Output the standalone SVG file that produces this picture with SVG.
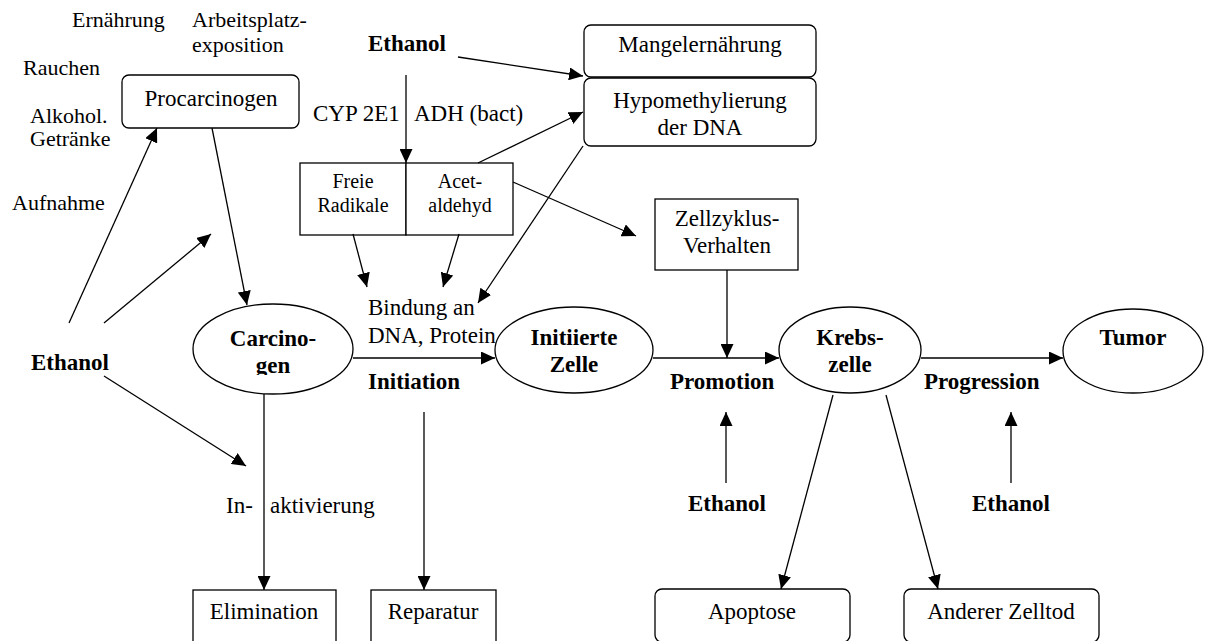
<svg xmlns="http://www.w3.org/2000/svg" width="1205" height="641" viewBox="0 0 1205 641">
<style>
text{font-family:"Liberation Serif","Times New Roman",serif;font-size:23px;fill:#000}
.b{font-weight:bold}
.s{font-size:22px}
.xs{font-size:20px}
.m{text-anchor:middle}
.box{fill:#fff;stroke:#000;stroke-width:1.3}
.el{fill:#fff;stroke:#000;stroke-width:1.3}
.c line{stroke:#000;stroke-width:1.3;marker-end:url(#ah)}
.c line.n{marker-end:none}
</style>
<defs>
<marker id="ah" markerUnits="userSpaceOnUse" markerWidth="15" markerHeight="13" refX="14" refY="6.5" orient="auto">
<path d="M0,0 L14,6.5 L0,13 z" fill="#000"/>
</marker>
<clipPath id="cgclip"><rect x="190" y="300" width="170" height="75"/></clipPath>
</defs>

<g id="labels">
<text x="72" y="27" class="s">Ernährung</text>
<text x="192" y="27" class="s">Arbeitsplatz-</text>
<text x="192" y="52" class="s">exposition</text>
<text x="23" y="75" class="s">Rauchen</text>
<text x="30" y="123" class="s">Alkohol.</text>
<text x="30" y="146" class="s">Getränke</text>
<text x="12" y="210" class="s">Aufnahme</text>
<text x="31" y="370" class="b">Ethanol</text>
<text x="368" y="51" class="b">Ethanol</text>
<text x="313" y="121">CYP 2E1</text>
<text x="414" y="121">ADH (bact)</text>
<text x="368" y="315">Bindung an</text>
<text x="368" y="343">DNA, Protein</text>
<text x="368" y="389" class="b">Initiation</text>
<text x="670" y="389" class="b">Promotion</text>
<text x="924" y="389" class="b">Progression</text>
<text x="226" y="513">In-</text>
<text x="270" y="513">aktivierung</text>
<text x="727" y="511" class="b m">Ethanol</text>
<text x="1011" y="511" class="b m">Ethanol</text>
</g>

<g id="procarcinogen">
<rect class="box" x="122" y="75" width="177" height="53" rx="7"/>
<text x="211" y="106" class="m">Procarcinogen</text>
</g>

<g id="mangel">
<rect class="box" x="584" y="25" width="232" height="52" rx="7"/>
<text x="700" y="52" class="m">Mangelernährung</text>
</g>

<g id="hypo">
<rect class="box" x="584" y="78" width="232" height="68" rx="7"/>
<text x="700" y="108" class="m">Hypomethylierung</text>
<text x="700" y="135" class="m">der DNA</text>
</g>

<g id="radikale">
<rect class="box" x="300" y="163" width="106" height="72"/>
<text x="353" y="188" class="xs m">Freie</text>
<text x="353" y="212" class="xs m">Radikale</text>
</g>

<g id="acetaldehyd">
<rect class="box" x="406" y="163" width="107" height="72"/>
<text x="460" y="188" class="xs m">Acet-</text>
<text x="460" y="212" class="xs m">aldehyd</text>
</g>

<g id="zellzyklus">
<rect class="box" x="655" y="199" width="143" height="71"/>
<text x="727" y="226" class="m">Zellzyklus-</text>
<text x="727" y="253" class="m">Verhalten</text>
</g>

<g id="carcinogen">
<ellipse class="el" cx="273" cy="349" rx="80" ry="45"/>
<g clip-path="url(#cgclip)">
<text x="273" y="346" class="b m">Carcino-</text>
<text x="273" y="373" class="b m">gen</text>
</g>
</g>

<g id="initiierte">
<ellipse class="el" cx="574" cy="350" rx="79" ry="43"/>
<text x="574" y="345" class="b m">Initiierte</text>
<text x="574" y="372" class="b m">Zelle</text>
</g>

<g id="krebszelle">
<ellipse class="el" cx="850" cy="350" rx="71" ry="43"/>
<text x="850" y="345" class="b m">Krebs-</text>
<text x="850" y="372" class="b m">zelle</text>
</g>

<g id="tumor">
<ellipse class="el" cx="1133" cy="351" rx="70" ry="42"/>
<text x="1133" y="345" class="b m">Tumor</text>
</g>

<g id="elimination">
<rect class="box" x="193" y="590" width="143" height="60"/>
<text x="264" y="619" class="m">Elimination</text>
</g>

<g id="reparatur">
<rect class="box" x="371" y="590" width="125" height="60"/>
<text x="433" y="619" class="m">Reparatur</text>
</g>

<g id="apoptose">
<rect class="box" x="655" y="589" width="195" height="53" rx="7"/>
<text x="752" y="619" class="m">Apoptose</text>
</g>

<g id="zelltod">
<rect class="box" x="904" y="589" width="195" height="53" rx="7"/>
<text x="1001" y="619" class="m">Anderer Zelltod</text>
</g>

<g id="connectors" class="c">
<line x1="69" y1="323" x2="157" y2="128"/>
<line x1="104" y1="323" x2="211" y2="234"/>
<line x1="104" y1="376" x2="246" y2="466"/>
<line x1="212" y1="128" x2="247" y2="305"/>
<line x1="458" y1="57" x2="583" y2="76"/>
<line x1="406" y1="75" x2="406" y2="163"/>
<line x1="478" y1="163" x2="583" y2="112"/>
<line x1="583" y1="146" x2="478" y2="303"/>
<line x1="513" y1="182" x2="636" y2="236"/>
<line x1="353" y1="234" x2="367" y2="287"/>
<line x1="459" y1="234" x2="443" y2="287"/>
<line x1="353" y1="358" x2="495" y2="358"/>
<line x1="653" y1="358" x2="779" y2="358"/>
<line x1="921" y1="358" x2="1063" y2="358"/>
<line x1="727" y1="270" x2="727" y2="358"/>
<line x1="726" y1="483" x2="726" y2="412"/>
<line x1="1011" y1="483" x2="1011" y2="412"/>
<line x1="264" y1="394" x2="264" y2="590"/>
<line x1="424" y1="412" x2="424" y2="590"/>
<line x1="833" y1="395" x2="781" y2="589"/>
<line x1="886" y1="395" x2="938" y2="589"/>
</g>
</svg>
